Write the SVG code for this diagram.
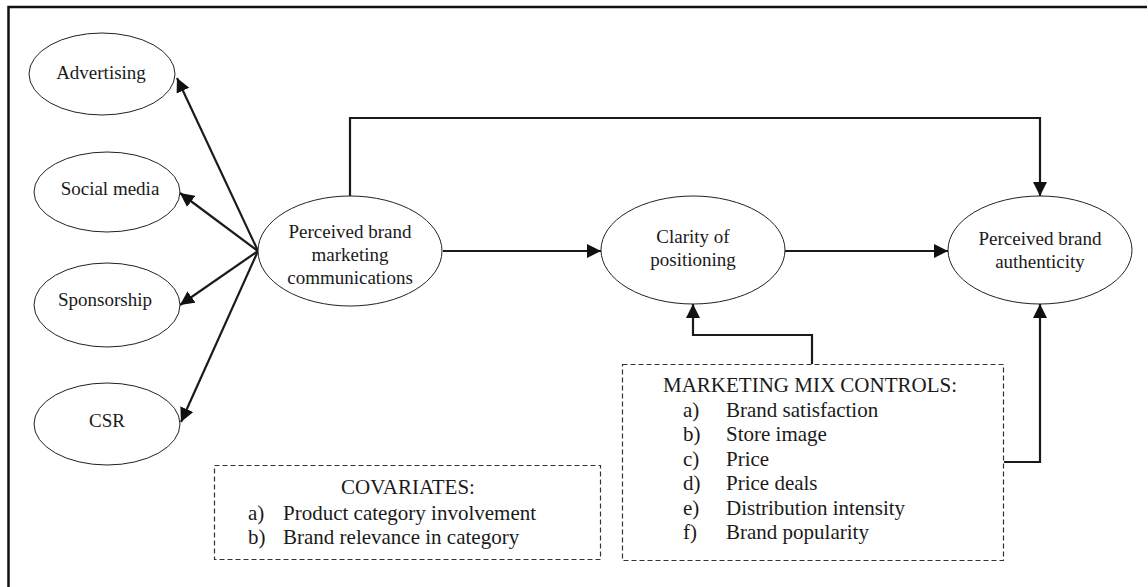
<svg xmlns="http://www.w3.org/2000/svg" width="1148" height="587" viewBox="0 0 1148 587">
<defs>
<marker id="arr" viewBox="0 0 10 10" refX="10" refY="5" markerWidth="14" markerHeight="14" markerUnits="userSpaceOnUse" orient="auto">
<path d="M0,0 L10,5 L0,10 z" fill="#111"/>
</marker>
<style>
.node ellipse{fill:#fff;stroke:#222;stroke-width:1}
.lbl{font-family:"Liberation Serif","Times New Roman",serif;font-size:19px;fill:#1a1a1a;text-anchor:middle}
.box{fill:#fff;stroke:#333;stroke-width:1.2;stroke-dasharray:5,3}
.bt{font-family:"Liberation Serif","Times New Roman",serif;font-size:21px;fill:#1a1a1a}
.conn{fill:none;stroke:#1a1a1a;stroke-width:2.2}
</style>
</defs>
<rect x="0" y="0" width="1148" height="587" fill="#fff"/>
<path d="M8.5,590 V7 H1147" fill="none" stroke="#111" stroke-width="2.5"/>

<g id="connectors">
<line class="conn" x1="258" y1="251" x2="177" y2="78" marker-end="url(#arr)"/>
<line class="conn" x1="258" y1="251" x2="180" y2="193" marker-end="url(#arr)"/>
<line class="conn" x1="258" y1="251" x2="180" y2="305" marker-end="url(#arr)"/>
<line class="conn" x1="258" y1="251" x2="181" y2="422" marker-end="url(#arr)"/>
<polyline class="conn" points="350,196 350,118 1040,118 1040,196" marker-end="url(#arr)"/>
<line class="conn" x1="443" y1="251" x2="601" y2="251" marker-end="url(#arr)"/>
<line class="conn" x1="785" y1="251" x2="948" y2="251" marker-end="url(#arr)"/>
<polyline class="conn" points="812,364 812,335 693,335 693,304" marker-end="url(#arr)"/>
<polyline class="conn" points="1004,462 1040,462 1040,304" marker-end="url(#arr)"/>
</g>

<g id="advertising" class="node"><ellipse cx="102" cy="74" rx="73" ry="41"/><text class="lbl" x="101" y="79">Advertising</text></g>
<g id="social-media" class="node"><ellipse cx="107" cy="192" rx="73" ry="40"/><text class="lbl" x="110" y="195">Social media</text></g>
<g id="sponsorship" class="node"><ellipse cx="107" cy="305" rx="73" ry="42"/><text class="lbl" x="105" y="306">Sponsorship</text></g>
<g id="csr" class="node"><ellipse cx="107" cy="424" rx="73" ry="41"/><text class="lbl" x="107" y="427">CSR</text></g>
<g id="pbmc" class="node"><ellipse cx="350" cy="251" rx="92" ry="55"/>
<text class="lbl" x="350" y="238">Perceived brand</text>
<text class="lbl" x="350" y="261">marketing</text>
<text class="lbl" x="350" y="284">communications</text></g>
<g id="clarity" class="node"><ellipse cx="693" cy="250" rx="92" ry="54"/>
<text class="lbl" x="693" y="243">Clarity of</text>
<text class="lbl" x="693" y="266">positioning</text></g>
<g id="authenticity" class="node"><ellipse cx="1040" cy="250" rx="92" ry="54"/>
<text class="lbl" x="1040" y="245">Perceived brand</text>
<text class="lbl" x="1040" y="268">authenticity</text></g>

<g id="covariates">
<rect class="box" x="214.5" y="465.5" width="386" height="94"/>
<text class="bt" x="408" y="494" text-anchor="middle">COVARIATES:</text>
<text class="bt" x="248" y="520">a)</text><text class="bt" x="283" y="520">Product category involvement</text>
<text class="bt" x="248" y="544">b)</text><text class="bt" x="283" y="544">Brand relevance in category</text>
</g>

<g id="marketing-mix">
<rect class="box" x="622.5" y="364.5" width="381" height="196"/>
<text class="bt" x="663" y="392">MARKETING MIX CONTROLS:</text>
<text class="bt" x="683" y="417">a)</text><text class="bt" x="726" y="417">Brand satisfaction</text>
<text class="bt" x="683" y="441">b)</text><text class="bt" x="726" y="441">Store image</text>
<text class="bt" x="683" y="466">c)</text><text class="bt" x="726" y="466">Price</text>
<text class="bt" x="683" y="490">d)</text><text class="bt" x="726" y="490">Price deals</text>
<text class="bt" x="683" y="515">e)</text><text class="bt" x="726" y="515">Distribution intensity</text>
<text class="bt" x="683" y="539">f)</text><text class="bt" x="726" y="539">Brand popularity</text>
</g>
</svg>
